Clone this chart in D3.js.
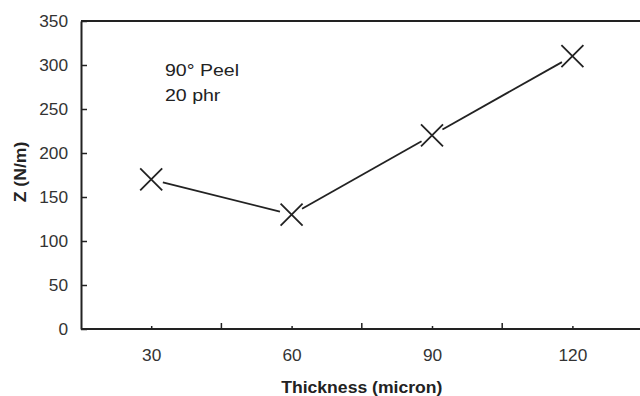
<!DOCTYPE html>
<html>
<head>
<meta charset="utf-8">
<script src="https://cdn.jsdelivr.net/npm/d3@7"></script>
<style>
  body { margin: 0; background: #fff; }
  svg { display: block; font-family: "Liberation Sans", Arial, sans-serif; }
</style>
</head>
<body>
<svg id="chart" width="640" height="396"></svg>
<script>
// data
const thickness = [30, 60, 90, 120];
const peelZ = [170, 130, 220, 310];
const yTicks = [0, 50, 100, 150, 200, 250, 300, 350];
const xMajor = [30, 60, 90, 120];
const xMinor = [45, 75, 105];
const notes = ["90° Peel", "20 phr"];

const w = 640, h = 396;
const m = { left: 81, top: 21, bottom: 67 };
const ink = "#222";

const svg = d3.select("#chart");

const x = d3.scaleLinear().domain([15, 135]).range([m.left, m.left + 120 * 4.68]);
const y = d3.scaleLinear().domain([0, 350]).range([h - m.bottom, m.top]);

// stretch text a bit sideways, the scan's font is wide
function widen(sel, sx) {
  sel.each(function () {
    const t = d3.select(this);
    const tx = +t.attr("x") || 0;
    t.attr("x", tx / sx).attr("transform", `scale(${sx},1)`);
  });
}

// frame: top line + left + bottom
svg.append("line")
  .attr("x1", m.left).attr("x2", w + 5)
  .attr("y1", m.top).attr("y2", m.top)
  .attr("stroke", ink).attr("stroke-width", 2);

// y axis, ticks pointing inward
const yAxis = svg.append("g")
  .attr("transform", `translate(${m.left},0)`)
  .call(d3.axisRight(y).tickValues(yTicks).tickSize(6).tickSizeOuter(0));
yAxis.select(".domain").attr("stroke", ink).attr("stroke-width", 2);
yAxis.selectAll(".tick line").attr("stroke", ink).attr("stroke-width", 1.5);
yAxis.selectAll(".tick text")
  .attr("x", -13).attr("text-anchor", "end")
  .attr("font-size", 16).attr("fill", "#333");
widen(yAxis.selectAll(".tick text"), 1.08);

// x axis, major labelled ticks and minor ticks pointing up
const xAxis = svg.append("g")
  .attr("transform", `translate(0,${y(0)})`)
  .call(d3.axisTop(x).tickValues(xMajor).tickSize(3).tickSizeOuter(0));
xAxis.select(".domain").attr("d", `M${m.left},0H${w + 5}`)
  .attr("stroke", ink).attr("stroke-width", 2);
xAxis.selectAll(".tick line").attr("stroke", ink).attr("stroke-width", 1.5);
xAxis.selectAll(".tick text")
  .attr("y", 32).attr("dy", null)
  .attr("font-size", 16).attr("fill", "#333");
widen(xAxis.selectAll(".tick text"), 1.08);

xAxis.selectAll(".minor")
  .data(xMinor)
  .join("line")
  .attr("class", "minor")
  .attr("x1", d => x(d)).attr("x2", d => x(d))
  .attr("y1", 0).attr("y2", -6)
  .attr("stroke", ink).attr("stroke-width", 1.5);

// axis titles
const xt = svg.append("text")
  .attr("x", x(75)).attr("y", 393)
  .attr("text-anchor", "middle")
  .attr("font-size", 16).attr("font-weight", "bold").attr("fill", ink)
  .text("Thickness (micron)");
widen(xt, 1.1);

svg.append("g")
  .attr("transform", "translate(26,172) rotate(-90)")
  .append("text")
  .attr("text-anchor", "middle")
  .attr("font-size", 16).attr("font-weight", "bold").attr("fill", ink)
  .attr("transform", "scale(1.1,1)")
  .text("Z (N/m)");

// inset note
svg.append("g").selectAll("text")
  .data(notes)
  .join("text")
  .attr("x", 165)
  .attr("y", (d, i) => 76 + i * 25.5)
  .attr("font-size", 17).attr("fill", ink)
  .text(d => d)
  .call(widen, 1.15);

// series: line segments that stop short of each marker
const pts = thickness.map((t, i) => [x(t), y(peelZ[i])]);
const gap = 12;
const segs = d3.pairs(pts).map(([a, b]) => {
  const dx = b[0] - a[0], dy = b[1] - a[1];
  const len = Math.hypot(dx, dy);
  const ux = dx / len, uy = dy / len;
  return [[a[0] + ux * gap, a[1] + uy * gap], [b[0] - ux * gap, b[1] - uy * gap]];
});

svg.append("g").selectAll("path")
  .data(segs)
  .join("path")
  .attr("d", d => d3.line()(d))
  .attr("stroke", ink).attr("stroke-width", 1.8).attr("fill", "none");

const r = 11;
svg.append("g").selectAll("path")
  .data(pts)
  .join("path")
  .attr("d", d => `M${d[0] - r},${d[1] - r}L${d[0] + r},${d[1] + r}M${d[0] - r},${d[1] + r}L${d[0] + r},${d[1] - r}`)
  .attr("stroke", ink).attr("stroke-width", 1.8).attr("fill", "none");
</script>
</body>
</html>
